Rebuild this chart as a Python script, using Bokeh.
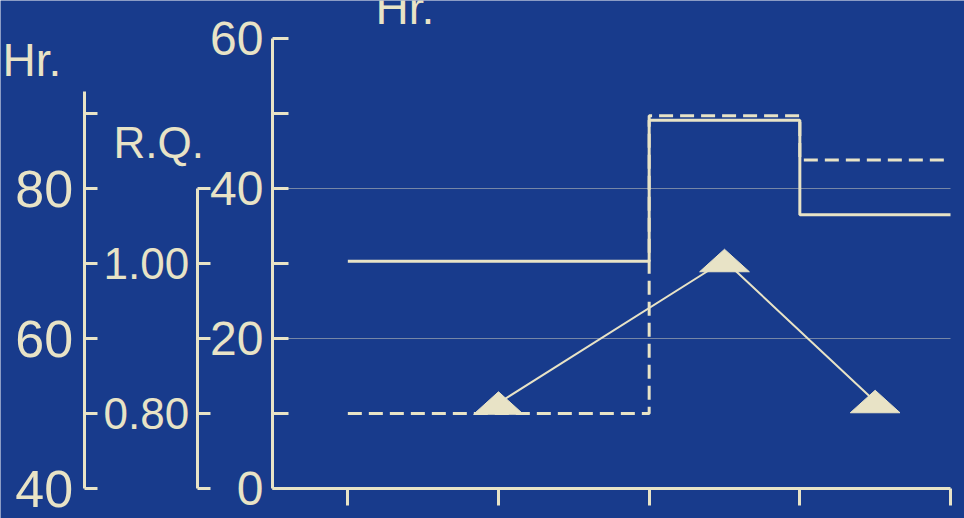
from bokeh.plotting import figure
from bokeh.models import (Range1d, LinearAxis, FixedTicker, Label,
                          PrintfTickFormatter, CustomJSTickFormatter)
from bokeh.embed import file_html
from bokeh.resources import INLINE

# ---------------- data ----------------
period_edges = [1, 3, 4, 5]
solid_vals = [30.3, 49.1, 36.5, 36.5]      # solid step series (main scale)
dashed_vals = [10.0, 49.7, 43.8, 43.8]     # dashed step series (main scale)
tri_x = [2.0, 3.5, 4.5]                    # triangle points
tri_y = [11.4, 30.4, 11.6]

main_ticks = [0, 20, 40, 60]
main_minor = [10, 30, 50]
grid_vals = [20, 40]
hr_ticks = [40, 60, 80]
hr_minor = [50, 70, 90]
rq_ticks = [0.80, 1.00]
rq_minor = [0.70, 0.90, 1.10]
x_ticks = [1, 2, 3, 4, 5]

# ---------------- layout / style ----------------
W, H = 964, 518
PXX = 678 / 4.5          # pixels per x unit
PXY = 7.5                # pixels per main-y unit
AX_X = 272               # main axis position (px)
AX_Y = 488               # zero line position (px)
X0 = 0.5 - AX_X / PXX
X1 = X0 + W / PXX
Y0 = -(H - AX_Y) / PXY
Y1 = AX_Y / PXY

BG = "#183b8c"
INK = "#e8e3c6"
FONT = "Liberation Sans"

p = figure(width=W, height=H,
           x_range=Range1d(X0, X1), y_range=Range1d(Y0, Y1),
           output_backend="svg", toolbar_location=None, title=None,
           min_border=0, min_border_left=0, min_border_right=0,
           min_border_top=0, min_border_bottom=0,
           background_fill_color=BG, border_fill_color=BG,
           outline_line_color=None)

p.extra_y_ranges = {"hr": Range1d(Y0 + 40, Y1 + 40),
                    "rq": Range1d(0.70 + Y0 / 100, 0.70 + Y1 / 100)}

def style_axis(ax, tick_in, standoff, fsize):
    ax.axis_line_color = INK
    ax.axis_line_width = 3
    ax.major_tick_line_color = INK
    ax.major_tick_line_width = 3
    ax.minor_tick_line_color = INK
    ax.minor_tick_line_width = 3
    ax.major_tick_in = tick_in
    ax.major_tick_out = 0
    ax.minor_tick_in = tick_in
    ax.minor_tick_out = 0
    ax.major_label_standoff = standoff
    ax.major_label_text_color = INK
    ax.major_label_text_font = FONT
    ax.major_label_text_font_size = fsize

# main axis (0-60)
ya = p.yaxis[0]
ya.fixed_location = 0.5
ya.bounds = (0, 60)
ya.ticker = FixedTicker(ticks=main_ticks, minor_ticks=main_minor)
style_axis(ya, 16, 9, "48px")

# R.Q. axis
rq_axis = LinearAxis(y_range_name="rq", fixed_location=0.0,
                     ticker=FixedTicker(ticks=rq_ticks, minor_ticks=rq_minor),
                     formatter=PrintfTickFormatter(format="%.2f"),
                     bounds=(0.70, 1.10))
style_axis(rq_axis, 13, 8, "44px")
p.add_layout(rq_axis, "left")

# Hr axis (40-100)
hr_axis = LinearAxis(y_range_name="hr", fixed_location=-0.75,
                     ticker=FixedTicker(ticks=hr_ticks, minor_ticks=hr_minor),
                     bounds=(40, 93))
style_axis(hr_axis, 13, 11, "52px")
p.add_layout(hr_axis, "left")

# x axis
xa = p.xaxis[0]
xa.fixed_location = 0.0
xa.bounds = (0.5, 5.0)
xa.ticker = FixedTicker(ticks=x_ticks, minor_ticks=[])
xa.formatter = CustomJSTickFormatter(code="return ''")
xa.axis_line_color = INK
xa.axis_line_width = 3
xa.major_tick_line_color = INK
xa.major_tick_line_width = 3
xa.major_tick_in = 0
xa.major_tick_out = 17
xa.major_label_standoff = 0

# grid (ruled lines from the main axis to the end of the x axis)
p.xgrid.visible = False
p.ygrid.visible = False
p.segment(x0=[0.5] * len(grid_vals), x1=[5.0] * len(grid_vals),
          y0=grid_vals, y1=grid_vals, line_color=INK, line_alpha=0.45,
          line_width=1)

# series
p.step(period_edges, dashed_vals, mode="after", line_color=INK,
       line_width=3, line_dash="14 7")
p.step(period_edges, solid_vals, mode="after", line_color=INK, line_width=3)

p.line(tri_x, tri_y, line_color=INK, line_width=2)
TRI_W = 0.165
TRI_H = 1.5
tri_xs = [[x - TRI_W, x, x + TRI_W] for x in tri_x]
tri_ys = [[y - TRI_H, y + TRI_H, y - TRI_H] for y in tri_y]
p.patches(tri_xs, tri_ys, fill_color=INK, line_color=INK, line_width=1)

# titles
p.add_layout(Label(x=-1.292, y=57.1, text="Hr.", text_color=INK,
                   text_font=FONT, text_font_size="46px",
                   text_baseline="alphabetic"))
p.add_layout(Label(x=-0.555, y=46.1, text="R.Q.", text_color=INK,
                   text_font=FONT, text_font_size="44px",
                   text_baseline="alphabetic"))
p.add_layout(Label(x=1.184, y=64.1, text="Hr.", text_color=INK,
                   text_font=FONT, text_font_size="46px",
                   text_baseline="alphabetic"))

html = file_html(p, INLINE)
html = html.replace("<body>", '<body style="background-color:%s;">' % BG, 1)
open("out.html", "w").write(html)
